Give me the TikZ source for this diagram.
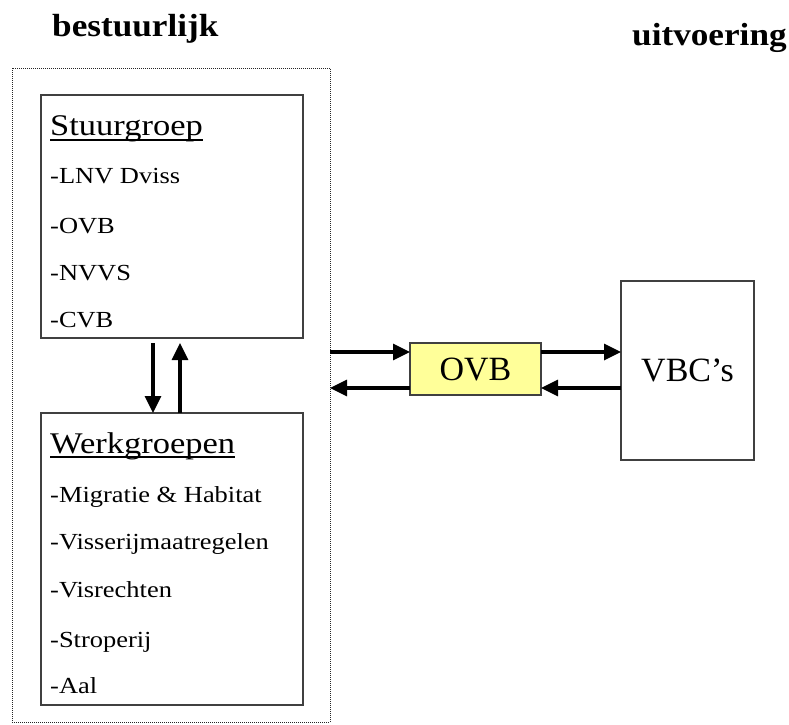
\documentclass[tikz,border=0pt]{standalone}
\usepackage{fontspec}
\setmainfont{Liberation Serif}
\newfontfamily\itemfont{Liberation Serif}[FakeStretch=1.15]
\newfontfamily\titlefont{Liberation Serif}[FakeStretch=1.1]
\usetikzlibrary{positioning,arrows.meta,calc}

\begin{document}
\begin{tikzpicture}[x=1pt, y=-1pt,
  group box/.style = {
    draw=black!75, line width=1.3pt, fill=white,
    inner sep=0pt, outer sep=0pt,
  },
  frame box/.style = {
    draw=black!85, densely dotted, line width=1pt,
    inner sep=0pt, outer sep=0pt,
  },
  head text/.style = {anchor=base west, inner sep=0pt,
    font=\itemfont\fontsize{30}{30}\selectfont},
  item text/.style = {anchor=base west, inner sep=0pt,
    font=\itemfont\fontsize{23}{23}\selectfont},
  side title/.style = {anchor=base west, inner sep=0pt,
    font=\titlefont\bfseries\fontsize{32}{32}\selectfont},
  flow/.style = {line width=3.3pt,
    -{Triangle[length=17pt,width=16pt]}},
]
  \useasboundingbox (0,0) rectangle (789,724);

  % column titles
  \node[side title] (bestuur) at (52,36) {bestuurlijk};
  \node[side title] (uitvoer) at (632,45) {uitvoering};

  % dotted frame round the bestuurlijk side
  \node[frame box, minimum width=318pt, minimum height=654pt]
    (frame) at (171,395) {};

  % Stuurgroep
  \node[group box, minimum width=262pt, minimum height=243pt]
    (stuur) at (172,216.5) {};
  \node[head text] (stuurhead) at (50,135) {Stuurgroep};
  \draw[line width=1.3pt] ([yshift=-5pt]stuurhead.base west)
    -- ([yshift=-5pt]stuurhead.base east);
  \foreach \y/\txt in {183/-LNV Dviss, 233/-OVB, 280/-NVVS, 327/-CVB}
    \node[item text] (stuur-\y) at (50,\y) {\txt};

  % Werkgroepen
  \node[group box, minimum width=262pt, minimum height=292pt]
    (werk) at (172,559) {};
  \node[head text] (werkhead) at (50,453) {Werkgroepen};
  \draw[line width=1.3pt] ([yshift=-4pt]werkhead.base west)
    -- ([yshift=-4pt]werkhead.base east);
  \foreach \y/\txt in {502/-Migratie \& Habitat, 549/-Visserijmaatregelen,
      597/-Visrechten, 647/-Stroperij, 693/-Aal}
    \node[item text] (werk-\y) at (50,\y) {\txt};

  % OVB and VBC's
  \node[group box, fill={rgb,255:red,255;green,255;blue,153},
    minimum width=131pt, minimum height=52pt,
    font=\fontsize{34}{34}\selectfont] (ovb) at (475.5,369) {OVB};
  \node[group box, minimum width=133pt, minimum height=179pt,
    font=\fontsize{34}{34}\selectfont] (vbc) at (687.5,370.5) {VBC’s};

  % arrows between the two groups
  \draw[flow] ([yshift=-5pt]stuur.south -| 153,0) -- (werk.north -| 153,0);
  \draw[flow] (werk.north -| 180,0) -- ([yshift=-5pt]stuur.south -| 180,0);

  % arrows through OVB
  \draw[flow] ([yshift=17pt]ovb.west -| frame.east) -- ([yshift=17pt]ovb.west);
  \draw[flow] ([yshift=17pt]ovb.east) -- ([yshift=17pt]ovb.east -| vbc.west);
  \draw[flow] ([yshift=-19pt]ovb.east -| vbc.west) -- ([yshift=-19pt]ovb.east);
  \draw[flow] ([yshift=-19pt]ovb.west) -- ([yshift=-19pt]ovb.west -| frame.east);
\end{tikzpicture}
\end{document}
